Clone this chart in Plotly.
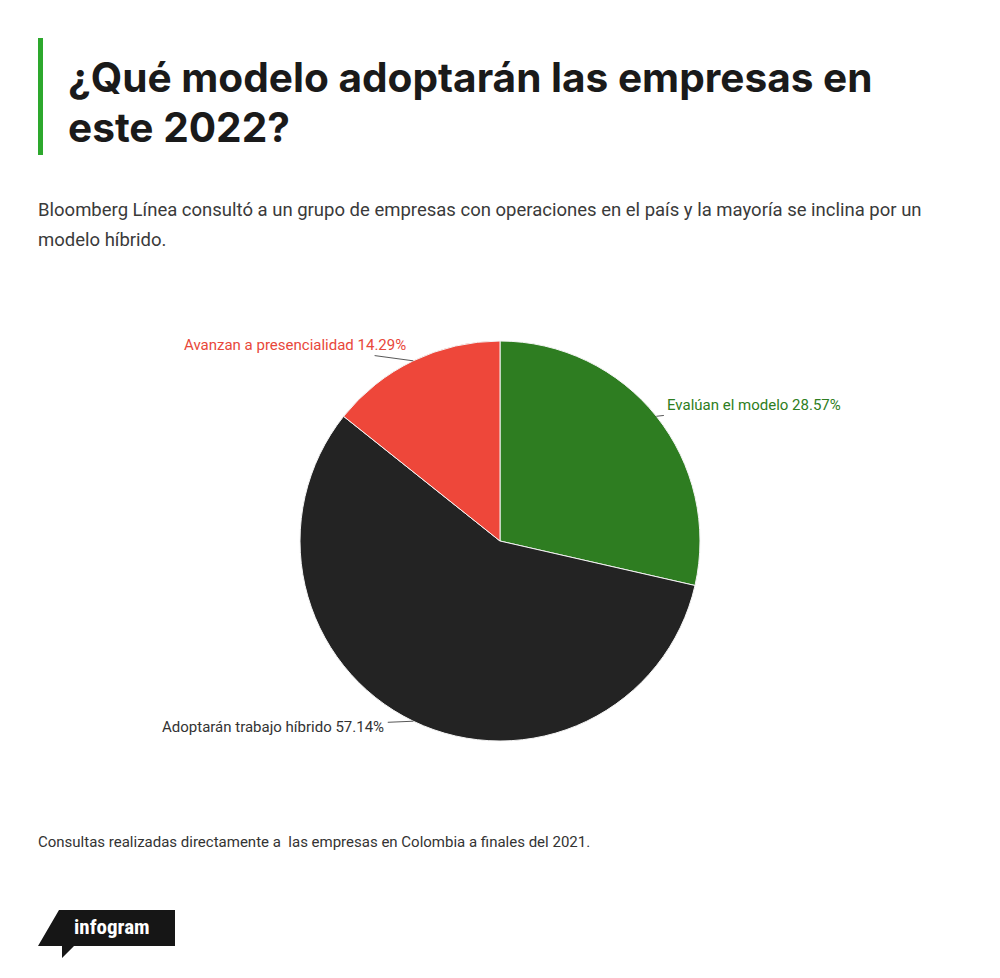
import math
import plotly.graph_objects as go

# Datos de la encuesta
categorias = ["Evalúan el modelo", "Adoptarán trabajo híbrido", "Avanzan a presencialidad"]
porcentajes = [28.57, 57.14, 14.29]
colores = ["#2E7D21", "#232323", "#EE473A"]
colores_texto = ["#2E7D21", "#333333", "#E8473A"]

titulo = ["¿Qué modelo adoptarán las empresas en", "este 2022?"]
subtitulo = ["Bloomberg Línea consultó a un grupo de empresas con operaciones en el país y la mayoría se inclina por un",
             "modelo híbrido."]
nota = "Consultas realizadas directamente a  las empresas en Colombia a finales del 2021."

W, H = 1000, 978
OFF = 8  # margen del body de la página


def px(x):
    return (x - OFF) / W


def py(y):
    return 1 - (y - OFF) / H


# pastel: centro y radio en pixeles de pantalla
cx, cy, r = 500, 541, 200

fig = go.Figure()
fig.add_trace(go.Pie(
    labels=categorias,
    values=porcentajes,
    sort=False,
    direction="clockwise",
    rotation=0,
    marker=dict(colors=colores, line=dict(color="#f4f4f4", width=1)),
    textinfo="none",
    hoverinfo="label+value",
    showlegend=False,
    domain=dict(x=[px(cx - r), px(cx + r)], y=[py(cy + r), py(cy - r)]),
))

# etiquetas con línea guía hacia el punto medio de cada porción
desplaz = [(98, -11), (-140, 6), (-118, -16)]
total = sum(porcentajes)
acum = 0
for cat, val, col, (ax, ay) in zip(categorias, porcentajes, colores_texto, desplaz):
    ang = 2 * math.pi * (acum + val / 2) / total
    acum += val
    tx = cx + r * math.sin(ang)
    ty = cy - r * math.cos(ang)
    fig.add_annotation(text=f"{cat} {val}%", xref="paper", yref="paper",
                       x=px(tx), y=py(ty), ax=ax, ay=ay,
                       showarrow=True, arrowhead=0, arrowwidth=0.9,
                       arrowcolor="#444444", standoff=0, startstandoff=2,
                       font=dict(family="Roboto", size=15, color=col))

# barra verde junto al título
fig.add_shape(type="rect", xref="paper", yref="paper",
              x0=px(38), x1=px(43), y0=py(155), y1=py(38),
              fillcolor="#2DA82D", line_width=0)

for i, linea in enumerate(titulo):
    fig.add_annotation(text=linea, xref="paper", yref="paper",
                       x=px(66), y=py(51 + 50 * i), xanchor="left", yanchor="top",
                       align="left", showarrow=False,
                       font=dict(family="Inter", size=40.6, color="#1a1a1a", weight="bold"))

for i, linea in enumerate(subtitulo):
    fig.add_annotation(text=linea, xref="paper", yref="paper",
                       x=px(36), y=py(210 + 30 * i), xanchor="left", yanchor="middle",
                       align="left", showarrow=False,
                       font=dict(family="Roboto", size=18.5, color="#3a3a3a"))

fig.add_annotation(text=nota, xref="paper", yref="paper",
                   x=px(36), y=py(842), xanchor="left", yanchor="middle",
                   align="left", showarrow=False,
                   font=dict(family="Roboto", size=15, color="#333333"))

# logo infogram
fig.add_shape(type="path", xref="paper", yref="paper",
              path=(f"M {px(59)},{py(910)} L {px(175)},{py(910)} L {px(175)},{py(946)} "
                    f"L {px(74)},{py(946)} L {px(62)},{py(958)} L {px(62)},{py(946)} "
                    f"L {px(38)},{py(946)} Z"),
              fillcolor="#161616", line_width=0)
fig.add_annotation(text="infogram", xref="paper", yref="paper",
                   x=px(72), y=py(927), xanchor="left", yanchor="middle",
                   showarrow=False,
                   font=dict(family="Roboto Condensed, Roboto", size=21, color="white", weight="bold"))

fig.update_layout(
    width=W, height=H,
    margin=dict(l=0, r=0, t=0, b=0),
    paper_bgcolor="white",
    plot_bgcolor="white",
)

fig.write_html("out.html")
